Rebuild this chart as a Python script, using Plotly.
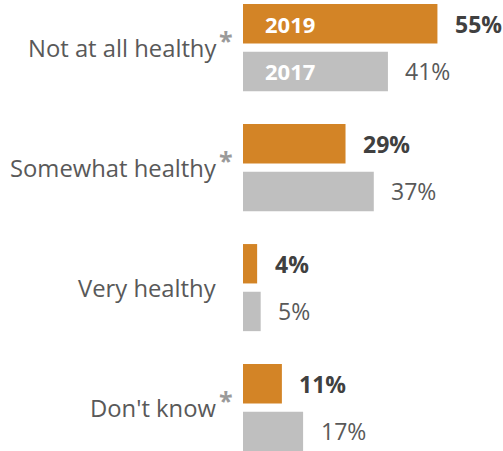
import plotly.graph_objects as go

# Survey responses: share of respondents by perceived healthiness
categories = ["Not at all healthy", "Somewhat healthy", "Very healthy", "Don't know"]
significant = [True, True, False, True]  # marked with an asterisk
values_2019 = [55, 29, 4, 11]
values_2017 = [41, 37, 5, 17]
series_names = ["2019", "2017"]

ORANGE = "#D38426"
GREY = "#BFBFBF"
LABEL_GREY = "#595959"
DARK = "#404040"
STAR_GREY = "#9A9A9A"
FONT = "Open Sans"

BARGAP = 0.205
BARGROUPGAP = 0.174

fig = go.Figure()
fig.add_trace(go.Bar(y=categories, x=values_2019, orientation="h", name=series_names[0],
                     marker=dict(color=ORANGE, line=dict(width=0)), hoverinfo="skip"))
fig.add_trace(go.Bar(y=categories, x=values_2017, orientation="h", name=series_names[1],
                     marker=dict(color=GREY, line=dict(width=0)), hoverinfo="skip"))

annotations = []
offset = (1 - BARGAP) / 4  # centre of each bar relative to its category

for i, cat in enumerate(categories):
    # category label, right aligned to the left of the bars
    annotations.append(dict(xref="paper", yref="y", x=0, y=i, text=cat, showarrow=False,
                            xanchor="right", yanchor="middle", xshift=-25,
                            font=dict(family=FONT, size=23.8, color=LABEL_GREY)))
    if significant[i]:
        annotations.append(dict(xref="paper", yref="y", x=0, y=i, text="<b>*</b>", showarrow=False,
                                xanchor="left", yanchor="middle", xshift=-26, yshift=8,
                                font=dict(family=FONT, size=25, color=STAR_GREY)))
    # value labels
    annotations.append(dict(xref="x", yref="y", x=values_2019[i], y=i - offset,
                            text=f"<b>{values_2019[i]}%</b>", showarrow=False,
                            xanchor="left", yanchor="middle", xshift=15.5,
                            font=dict(family=FONT, size=23, color=DARK)))
    annotations.append(dict(xref="x", yref="y", x=values_2017[i], y=i + offset,
                            text=f"{values_2017[i]}%", showarrow=False,
                            xanchor="left", yanchor="middle", xshift=15.5,
                            font=dict(family=FONT, size=23, color=LABEL_GREY)))

# series names written inside the first pair of bars
for name, dy in zip(series_names, (-offset, offset)):
    annotations.append(dict(xref="x", yref="y", x=0, y=0 + dy, text=f"<b>{name}</b>",
                            showarrow=False, xanchor="left", yanchor="middle", xshift=20,
                            font=dict(family=FONT, size=22, color="white")))

fig.update_layout(
    width=503, height=451,
    margin=dict(l=243, r=0, t=0, b=0),
    paper_bgcolor="white", plot_bgcolor="white",
    barmode="group", bargap=BARGAP, bargroupgap=BARGROUPGAP,
    showlegend=False,
    xaxis=dict(range=[0, 73.55], visible=False, fixedrange=True),
    yaxis=dict(range=[3.3617, -0.3967], showticklabels=False, showgrid=False,
               zeroline=False, showline=False, ticks="", fixedrange=True),
    annotations=annotations,
)

fig.write_html("out.html", config={"displayModeBar": False})
